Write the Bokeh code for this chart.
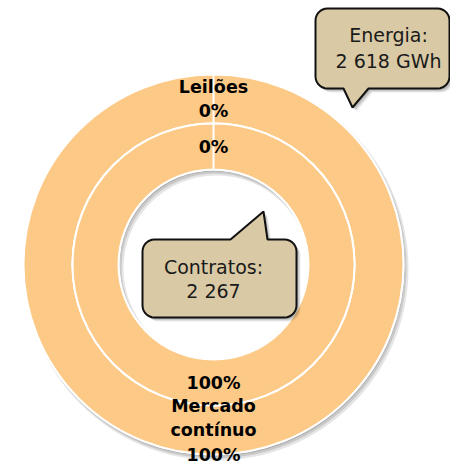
import numpy as np
from bokeh.plotting import figure
from bokeh.models import Range1d, ColumnDataSource
from bokeh.core.properties import value
from bokeh.embed import file_html
from bokeh.resources import INLINE

# ---------------- data ----------------
categories = ["Leilões", "Mercado contínuo"]
energia_pct = [0, 100]      # outer ring (energy)
contratos_pct = [0, 100]    # inner ring (contracts)
callout_titles = ["Energia:", "Contratos:"]
callout_values = ["2 618 GWh", "2 267"]

# ---------------- layout ----------------
W, H = 450, 463
def X(sx):
    return sx
def Y(sy):
    return H - sy

RING = "#FDC986"
BOX = "#D9C9A5"
FONT = "DejaVu Sans"

p = figure(width=W, height=H, x_range=Range1d(0, W), y_range=Range1d(0, H),
           output_backend="svg", toolbar_location=None, min_border=0)
p.axis.visible = False
p.grid.visible = False
p.outline_line_color = None
p.background_fill_color = "white"
p.border_fill_color = "white"

cx, cy = X(213), Y(264)
r_hole, r_mid, r_out = 95, 141, 190


def angles(pcts):
    vals = np.array(pcts, dtype=float)
    frac = vals / vals.sum()
    cum = np.concatenate([[0.0], np.cumsum(frac)])
    start = np.pi / 2 - 2 * np.pi * cum[:-1]
    end = np.pi / 2 - 2 * np.pi * cum[1:]
    return start, end

# shadows of the rings
for dx, dy, a, grow in [(3, -4, 0.10, 2), (2, -3, 0.12, 1), (1, -2, 0.12, 0)]:
    p.annulus(x=cx + dx, y=cy + dy, inner_radius=r_hole - grow, outer_radius=r_out + grow,
              fill_color="black", fill_alpha=a, line_color=None)

rings = [(energia_pct, r_mid, r_out), (contratos_pct, r_hole, r_mid)]
label_rows = {"x": [], "y": [], "text": []}
for ri, (pcts, rin, rout) in enumerate(rings):
    s, e = angles(pcts)
    src = ColumnDataSource(dict(start=s, end=e, cat=categories, pct=pcts))
    p.annular_wedge(x=cx, y=cy, inner_radius=rin, outer_radius=rout,
                    start_angle="start", end_angle="end", direction="clock",
                    fill_color=RING, line_color="white", line_width=2, source=src)
    rmid = (rin + rout) / 2
    for cat, pct, a0, a1 in zip(categories, pcts, s, e):
        mid = (a0 + a1) / 2
        lx = cx + rmid * np.cos(mid)
        ly = cy + rmid * np.sin(mid)
        if ri == 0:
            lines = cat.split(" ") + [f"{pct}%"]
        else:
            lines = [f"{pct}%"]
        n = len(lines)
        lh = 24.5
        for k, t in enumerate(lines):
            label_rows["x"].append(lx)
            label_rows["y"].append(ly - (k - (n - 1) / 2) * lh)
            label_rows["text"].append(t)

p.text(x="x", y="y", text="text", source=ColumnDataSource(label_rows),
       text_font=value(FONT), text_font_style="bold", text_font_size="17.5px",
       text_color="black", text_align="center", text_baseline="middle")


# ---------------- callouts ----------------
def callout(x0, y0, x1, y1, r, edge, a, b, tip):
    pts = []
    def arc(ccx, ccy, t0, t1):
        for t in np.linspace(t0, t1, 8):
            pts.append((ccx + r * np.cos(t), ccy + r * np.sin(t)))
    pts.append((x0 + r, y0))
    if edge == "top":
        pts += [(a, y0), tip, (b, y0)]
    arc(x1 - r, y0 + r, -np.pi / 2, 0)
    arc(x1 - r, y1 - r, 0, np.pi / 2)
    if edge == "bottom":
        pts += [(b, y1), tip, (a, y1)]
    arc(x0 + r, y1 - r, np.pi / 2, np.pi)
    arc(x0 + r, y0 + r, np.pi, 1.5 * np.pi)
    xs = [X(px) for px, py in pts]
    ys = [Y(py) for px, py in pts]
    return xs, ys

boxes = [
    dict(x0=315, y0=8, x1=449, y1=88, edge="bottom", a=343, b=368, tip=(352, 107),
         tx=388, ty=[34, 60]),
    dict(x0=142, y0=239, x1=296, y1=317, edge="top", a=230, b=267, tip=(263, 211),
         tx=213, ty=[266, 290]),
]
for bx, title, val in zip(boxes, callout_titles, callout_values):
    xs, ys = callout(bx["x0"], bx["y0"], bx["x1"], bx["y1"], 12, bx["edge"],
                     bx["a"], bx["b"], bx["tip"])
    for d, al in [(4, 0.08), (3, 0.10), (2, 0.12)]:
        p.patch([v + d for v in xs], [v - d for v in ys], fill_color="black",
                fill_alpha=al, line_color=None)
    p.patch(xs, ys, fill_color=BOX, line_color="#111111", line_width=2)
    p.text(x=[X(bx["tx"])] * 2, y=[Y(t) for t in bx["ty"]], text=[title, val],
           text_font=value(FONT), text_font_size="19px", text_color="#1a1a1a",
           text_align="center", text_baseline="middle")

open("out.html", "w").write(file_html(p, INLINE))
